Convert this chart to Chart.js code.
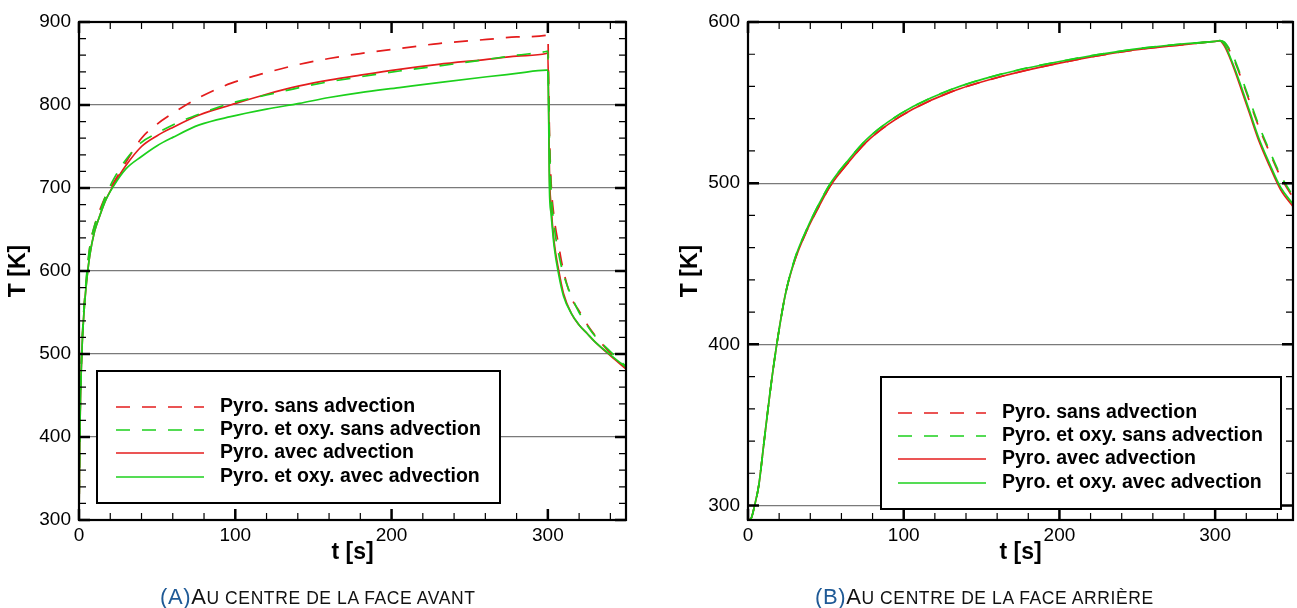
<!DOCTYPE html>
<html>
<head>
<meta charset="utf-8">
<script src="https://cdn.jsdelivr.net/npm/chart.js@4.4.1/dist/chart.umd.min.js"></script>
<style>
body { margin: 0; background: #fff; width: 1297px; height: 608px; position: relative; overflow: hidden; font-family: "Liberation Sans", Arial, sans-serif; }
#front { position: absolute; left: 0; top: 0; }
#back { position: absolute; left: 648px; top: 0; }
.cap { position: absolute; top: 586px; font-size: 22px; line-height: 22px; white-space: nowrap; letter-spacing: 0.6px; color: #111; }
.cap .lab { color: #1f5a96; }
.cap .sc { font-size: 17.5px; }
</style>
</head>
<body>
<canvas id="front" width="648" height="608"></canvas>
<canvas id="back" width="649" height="608"></canvas>
<div class="cap" style="left:160px"><span class="lab">(A)</span>A<span class="sc">U CENTRE DE LA FACE AVANT</span></div>
<div class="cap" style="left:815px"><span class="lab">(B)</span>A<span class="sc">U CENTRE DE LA FACE ARRIÈRE</span></div>
<script>
const seriesLabels = ["Pyro. sans advection", "Pyro. et oxy. sans advection", "Pyro. avec advection", "Pyro. et oxy. avec advection"];

// face avant
const frontTime = [0, 0.5, 1, 2, 3, 4, 5, 7, 10, 13, 17, 22, 30, 40, 50, 60, 77, 97, 120, 141, 160, 180, 205, 230, 261, 280, 299, 300, 300.5, 301, 302, 304, 307, 310, 315, 320, 325, 330, 340, 350];
const frontPyroSans = [300, 400, 455, 515, 550, 575, 595, 630, 655, 672, 690, 706, 731, 760, 777, 790, 809, 826, 839, 849, 856, 862, 868, 874, 879, 882, 884, 885, 830, 770, 710, 665, 630, 600, 568, 552, 536, 523, 501, 483];
const frontOxySans = [300, 400, 455, 515, 550, 575, 598, 630, 655, 669, 690, 710, 734, 755, 766, 776, 789, 802, 812, 821, 828, 834, 841, 847, 855, 860, 864.5, 865, 810, 760, 700, 655, 620, 596, 570, 550, 535, 522, 503, 485];
const frontPyroAvec = [300, 400, 450, 510, 545, 570, 590, 620, 648, 665, 685, 703, 727, 750, 763, 773, 788, 800, 813, 823, 830, 836, 843, 849, 855, 859, 862, 863, 800, 720, 680, 635, 600, 573, 549, 535, 525, 515, 498, 482];
const frontOxyAvec = [300, 400, 450, 510, 545, 570, 590, 620, 648, 665, 685, 702, 723, 738, 751, 761, 776, 786, 795, 802, 809, 815, 821, 827, 834, 838, 842, 842, 790, 700, 670, 630, 595, 570, 549, 535, 525, 515, 499, 484];

// face arriere
const backTime = [0, 2, 4, 7, 10, 14, 18, 24, 30, 38, 45, 53, 65, 76, 90, 106, 130, 162, 200, 247, 280, 300, 303, 306, 311, 316, 322, 328, 335, 342, 350];
const backPyroSans = [291, 292, 299, 313, 337, 369, 397, 431, 452, 471, 484.5, 498.5, 513.5, 525.5, 536.5, 546, 556.5, 566, 574.5, 582.5, 586, 588, 588.3, 587, 579, 567, 551, 535, 519, 504, 491];
const backOxySans = [291, 292, 299, 313, 337, 369, 397, 431, 453, 472, 486, 500, 515, 527, 538, 547.5, 558, 567.5, 575.5, 583, 586.5, 588, 588.5, 587.5, 580, 568, 552, 536, 520, 505, 492];
const backPyroAvec = [291, 292, 299, 313, 337, 369, 397, 431, 452, 471, 484.5, 498.5, 513.5, 525.5, 536.5, 546, 556.5, 566, 574.5, 582.5, 586, 588, 588.3, 585, 574, 560.5, 543.5, 526.5, 510.5, 496, 485.5];
const backOxyAvec = [291, 292, 299, 313, 337, 369, 397, 431, 453, 472, 486, 500, 515, 527, 538, 547.5, 558, 567.5, 575.5, 583, 586.5, 588, 588.5, 586, 575, 562, 545, 528, 512, 497.5, 487];

const red = "rgb(228,28,28)";
const green = "rgb(28,208,28)";
const styles = [
  { color: red, dash: [14, 12], order: 3 },
  { color: green, dash: [14, 12], order: 1 },
  { color: red, dash: [], order: 2 },
  { color: green, dash: [], order: 0 }
];
const font = "'Liberation Sans', Arial, sans-serif";

function makeSets(time, series) {
  return series.map((vals, i) => ({
    label: seriesLabels[i],
    data: time.map((t, k) => ({ x: t, y: vals[k] })),
    borderColor: styles[i].color,
    borderDash: styles[i].dash,
    borderWidth: 1.7,
    pointRadius: 0,
    cubicInterpolationMode: "monotone",
    order: styles[i].order,
    fill: false
  }));
}

// ticks on all four sides, frame and legend box
const framePlugin = {
  id: "frame",
  afterDatasetsDraw(chart, args, opts) {
    const { ctx, chartArea: a, scales: { x, y } } = chart;
    ctx.save();
    ctx.strokeStyle = "#000";
    for (let v = 0; v <= x.max; v += 20) {
      const px = x.getPixelForValue(v);
      const major = v % 100 === 0;
      const len = major ? 11 : 7;
      ctx.lineWidth = major ? 2.5 : 1.2;
      ctx.beginPath();
      ctx.moveTo(px, a.bottom); ctx.lineTo(px, a.bottom - len);
      ctx.moveTo(px, a.top); ctx.lineTo(px, a.top + len);
      ctx.stroke();
    }
    for (let v = Math.ceil(y.min / 20) * 20; v <= y.max; v += 20) {
      const py = y.getPixelForValue(v);
      const major = v % 100 === 0;
      const len = major ? 11 : 7;
      ctx.lineWidth = major ? 2.5 : 1.2;
      ctx.beginPath();
      ctx.moveTo(a.left, py); ctx.lineTo(a.left + len, py);
      ctx.moveTo(a.right, py); ctx.lineTo(a.right - len, py);
      ctx.stroke();
    }
    ctx.lineWidth = 2.2;
    ctx.strokeRect(a.left, a.top, a.right - a.left, a.bottom - a.top);

    // legend
    const b = opts.box;
    ctx.fillStyle = "#fff";
    ctx.fillRect(b[0], b[1], b[2], b[3]);
    ctx.lineWidth = 2;
    ctx.strokeRect(b[0], b[1], b[2], b[3]);
    ctx.font = "bold 19.5px " + font;
    ctx.textBaseline = "middle";
    chart.data.datasets.forEach((ds, i) => {
      const ry = opts.rows[i];
      ctx.strokeStyle = ds.borderColor;
      ctx.lineWidth = 1.7;
      ctx.setLineDash(ds.borderDash);
      ctx.beginPath();
      ctx.moveTo(opts.lineX[0], ry); ctx.lineTo(opts.lineX[1], ry);
      ctx.stroke();
      ctx.setLineDash([]);
      ctx.fillStyle = "#000";
      ctx.fillText(ds.label, opts.textX, ry);
    });
    ctx.restore();
  }
};

function makeOptions(yMin, yMax, yWidth, yTitlePad, pad, legend) {
  return {
    responsive: false,
    animation: false,
    layout: { padding: pad },
    plugins: { legend: { display: false }, tooltip: { enabled: false }, frame: legend },
    scales: {
      x: {
        type: "linear", min: 0, max: 350,
        afterFit: s => { s.height = 58; },
        grid: { display: false, drawTicks: false },
        border: { display: false },
        ticks: {
          stepSize: 20, autoSkip: false, maxRotation: 0, padding: 4, color: "#000",
          font: { family: font, size: 19 },
          callback: v => (v % 100 === 0 ? String(v) : "")
        },
        title: { display: true, text: "t [s]", color: "#000", padding: { top: 0, bottom: 12 }, font: { family: font, size: 23, weight: "bold" } }
      },
      y: {
        type: "linear", min: yMin, max: yMax,
        afterFit: s => { s.width = yWidth; },
        afterBuildTicks: s => {
          const list = [];
          for (let v = Math.ceil(yMin / 20) * 20; v <= yMax; v += 20) list.push({ value: v });
          s.ticks = list;
        },
        grid: {
          drawTicks: false, lineWidth: 1.2,
          color: c => (c.tick && c.tick.value % 100 === 0 && c.tick.value !== yMin && c.tick.value !== yMax ? "#7a7a7a" : "rgba(0,0,0,0)")
        },
        border: { display: false },
        ticks: {
          autoSkip: false, padding: 8, color: "#000",
          font: { family: font, size: 19 },
          callback: v => (v % 100 === 0 ? String(v) : "")
        },
        title: { display: true, text: "T [K]", color: "#000", padding: { top: yTitlePad, bottom: 0 }, font: { family: font, size: 23, weight: "bold" } }
      }
    }
  };
}

new Chart(document.getElementById("front"), {
  type: "line",
  data: { datasets: makeSets(frontTime, [frontPyroSans, frontOxySans, frontPyroAvec, frontOxyAvec]) },
  options: makeOptions(300, 900, 79, 5, { left: 0, right: 22, top: 22, bottom: 30 },
    { box: [97, 371, 403, 132], rows: [407, 430, 453, 477], lineX: [116, 204], textX: 220 }),
  plugins: [framePlugin]
});

new Chart(document.getElementById("back"), {
  type: "line",
  data: { datasets: makeSets(backTime, [backPyroSans, backOxySans, backPyroAvec, backOxyAvec]) },
  options: makeOptions(291, 600, 100, 29, { left: 0, right: 3, top: 22, bottom: 30 },
    { box: [233, 377, 400, 132], rows: [413, 436, 459, 483], lineX: [250, 338], textX: 354 }),
  plugins: [framePlugin]
});
</script>
</body>
</html>
